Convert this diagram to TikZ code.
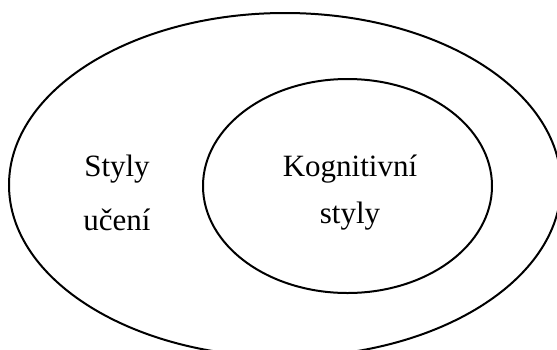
\documentclass[tikz,border=0pt]{standalone}
\usepackage{fontspec}
\setmainfont{Liberation Serif}
\usetikzlibrary{shapes.geometric}

\tikzset{
  set/.style={ellipse, draw, line width=2pt, inner sep=0pt},
  label/.style={anchor=base, inner sep=0pt, font=\fontsize{31}{36}\selectfont}
}

\begin{document}
\begin{tikzpicture}[x=1pt,y=-1pt]
        \useasboundingbox (0,0) rectangle (557,349);
        \node[set, minimum width=552pt, minimum height=344pt] (uceni) at (285,185) {};
        \node[set, minimum width=289pt, minimum height=214pt] (kognitivni) at (347.5,186) {};
        \node[label] (styly1) at (117,176) {Styly};
        \node[label] (styly2) at (117,230) {učení};
        \node[label] (kog1) at (350,176) {Kognitivní};
        \node[label] (kog2) at (350,223) {styly};
    \end{tikzpicture}
\end{document}
